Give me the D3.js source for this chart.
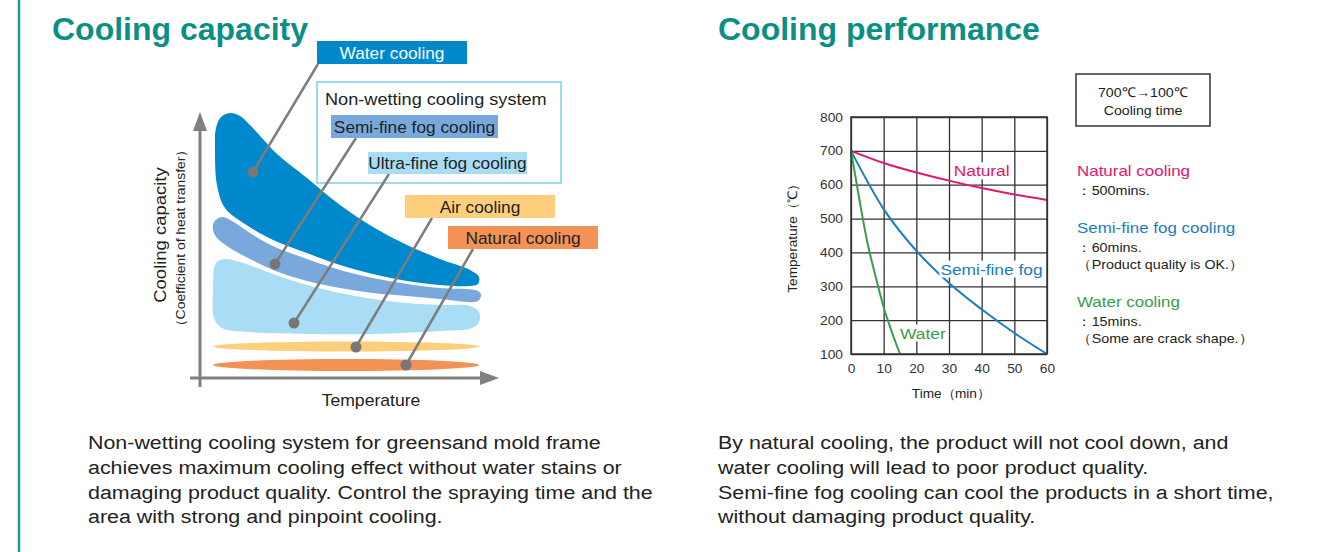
<!DOCTYPE html>
<html>
<head>
<meta charset="utf-8">
<script src="https://cdn.jsdelivr.net/npm/d3@7"></script>
<style>
  body { margin: 0; background: #fff; }
  svg text { font-family: 'Liberation Sans', Arial, sans-serif; }
  .title { font-weight: bold; font-size: 32px; fill: #0b8f85; }
  .grid line { stroke: #333; stroke-width: 1.3; }
  .grid .domain { display: none; }
  .grid text { font-size: 12.5px; fill: #333; }
</style>
</head>
<body>
<svg width="1321" height="552"></svg>
<script>
(function() {

	// ---- data: cooling capacity schematic (temperature units x capacity units) ----
	var bandNames = ['Water cooling', 'Semi-fine fog cooling', 'Ultra-fine fog cooling', 'Air cooling', 'Natural cooling']
	var waterBlob = [[3,250],[8,261],[17,265],[27,262],[36,254],[48,241],[64,224],[94,200],[127,173],[160,151],[194,133],[227,119],[257,108],[266,101],[265,94],[257,92],[227,93],[194,97],[160,104],[127,113],[94,125],[60,138],[32,154],[12,170],[4,193],[2,228]]
	var semiBlob = [[1,156],[9,161],[19,157],[37,145],[60,132],[94,119],[127,108],[160,100],[194,94],[227,90],[265,87],[268,83],[265,77],[227,79],[194,82],[160,85],[127,90],[94,97],[60,108],[37,119],[17,130],[4,140],[0,148]]
	var ultraBlob = [[3,115],[12,119],[27,116],[60,104],[94,93],[127,85],[160,79],[194,75],[227,73],[257,72],[266,66],[266,56],[259,50],[227,47],[160,44],[94,44],[37,46],[9,50],[1,60],[0,88]]
	var airBand = { from: 0, to: 266, level: 31.5, spread: 10 }
	var naturalBand = { from: 0, to: 266, level: 13, spread: 12 }
	var bandDots = [[40,206],[62,114],[81,55],[143,31],[193,13]]

	// ---- data: cooling performance ----
	var timeTicks = [0,10,20,30,40,50,60]
	var tempTicks = [100,200,300,400,500,600,700,800]
	var naturalTime = [0,10,20,30,40,50,60]
	var naturalTemp = [700,664,636,612,590,571,555]
	var semiTime = [0,10,20,30,40,50,60]
	var semiTemp = [700,528,405,310,232,162,100]
	var waterTime = [0,2.5,5,7.5,10,12.5,15]
	var waterTemp = [700,560,430,330,238,165,100]
	var curveNames = ['Natural', 'Semi-fine fog', 'Water']
	var curveLabelAt = [[40,641],[43,351],[22,162]]
	var legendTitles = ['Natural cooling', 'Semi-fine fog cooling', 'Water cooling']
	var legendNotes = [['：500mins.'], ['：60mins.', '（Product quality is OK.）'], ['：15mins.', '（Some are crack shape.）']]

	var leftNote = [
		'Non-wetting cooling system for greensand mold frame',
		'achieves maximum cooling effect without water stains or',
		'damaging product quality. Control the spraying time and the',
		'area with strong and pinpoint cooling.'
	]
	var rightNote = [
		'By natural cooling, the product will not cool down, and',
		'water cooling will lead to poor product quality.',
		'Semi-fine fog cooling can cool the products in a short time,',
		'without damaging product quality.'
	]

	var bandColors = ['#0088cc', '#79a9dc', '#a9ddf6', '#fdcf7d', '#f39254']
	var curveColors = ['#e5156d', '#1b7cc1', '#3a9d48']

	var svg = d3.select('svg')

	// text stretched horizontally (source font is wider than Arial)
	function wide(g, x, y, str, size, sx, anchor, fill) {
		return g.append('text')
			.attr('transform', 'translate(' + x + ',' + y + ') scale(' + sx + ',1)')
			.attr('text-anchor', anchor || 'start')
			.attr('dominant-baseline', 'central')
			.style('font-size', size + 'px')
			.attr('fill', fill || '#222')
			.text(str)
	}

	// side rule
	svg.append('line').attr('x1', 19).attr('x2', 19).attr('y1', 0).attr('y2', 552)
		.attr('stroke', '#1a9a92').attr('stroke-width', 2.5)

	svg.append('text').attr('class', 'title').attr('x', 52).attr('y', 40).text('Cooling capacity')
	svg.append('text').attr('class', 'title').attr('x', 718).attr('y', 40).text('Cooling performance')

	// ================= left: capacity schematic =================
	var xL = d3.scaleLinear().domain([0, 266]).range([213, 479])
	var yL = d3.scaleLinear().domain([0, 265]).range([378, 113])
	var gL = svg.append('g')

	var blob = d3.line()
		.x(function(d) { return xL(d[0]) })
		.y(function(d) { return yL(d[1]) })
		.curve(d3.curveCatmullRomClosed.alpha(0.5))

	;[waterBlob, semiBlob, ultraBlob].forEach(function(pts, i) {
		gL.append('path').attr('d', blob(pts)).attr('fill', bandColors[i])
	})
	;[airBand, naturalBand].forEach(function(b, i) {
		gL.append('ellipse')
			.attr('cx', xL((b.from + b.to) / 2))
			.attr('cy', yL(b.level))
			.attr('rx', (xL(b.to) - xL(b.from)) / 2)
			.attr('ry', (yL(0) - yL(b.spread)) / 2)
			.attr('fill', bandColors[i + 3])
	})

	// axes with arrows
	var axisColor = '#808080'
	gL.append('line').attr('x1', 200).attr('x2', 200).attr('y1', 128).attr('y2', 387)
		.attr('stroke', axisColor).attr('stroke-width', 3)
	gL.append('path').attr('d', 'M200,112 L193,131 L207,131 Z').attr('fill', axisColor)
	gL.append('line').attr('x1', 190).attr('x2', 484).attr('y1', 378).attr('y2', 378)
		.attr('stroke', axisColor).attr('stroke-width', 3)
	gL.append('path').attr('d', 'M499,378 L480,371 L480,385 Z').attr('fill', axisColor)

	wide(gL, 371, 401, 'Temperature', 16, 1.1, 'middle')
	var yLab = gL.append('g').attr('transform', 'translate(160,235) rotate(-90)')
	wide(yLab, 0, 0, 'Cooling capacity', 16.5, 1.12, 'middle')
	var yLab2 = gL.append('g').attr('transform', 'translate(181,238) rotate(-90)')
	wide(yLab2, 0, 0, '（Coefficient of heat transfer）', 13, 1.07, 'middle')

	// non-wetting frame
	gL.append('rect').attr('x', 317).attr('y', 82).attr('width', 244).attr('height', 101)
		.attr('fill', 'none').attr('stroke', '#9dd9f3').attr('stroke-width', 2)
	wide(gL, 325, 99, 'Non-wetting cooling system', 16.5, 1.1, 'start')

	// label boxes + leaders
	var boxLayout = [
		{ x: 317, y: 41, w: 150, h: 23, lx: 318, ly: 64, text: '#fff' },
		{ x: 331, y: 115, w: 167, h: 23, lx: 356, ly: 138, text: '#222' },
		{ x: 368, y: 152, w: 159, h: 22, lx: 389, ly: 174, text: '#222' },
		{ x: 405, y: 195, w: 150, h: 23, lx: 432, ly: 218, text: '#222' },
		{ x: 448, y: 226, w: 150, h: 23, lx: 473, ly: 249, text: '#222' }
	]
	bandNames.forEach(function(name, i) {
		var b = boxLayout[i]
		var d = bandDots[i]
		gL.append('line')
			.attr('x1', xL(d[0])).attr('y1', yL(d[1]))
			.attr('x2', b.lx).attr('y2', b.ly)
			.attr('stroke', '#7d7d7d').attr('stroke-width', 2.5)
		gL.append('circle').attr('cx', xL(d[0])).attr('cy', yL(d[1])).attr('r', 5.5).attr('fill', '#777')
		gL.append('rect').attr('x', b.x).attr('y', b.y).attr('width', b.w).attr('height', b.h)
			.attr('fill', bandColors[i])
		wide(gL, b.x + b.w / 2, b.y + b.h / 2 + 1, name, 16, 1.08, 'middle', b.text)
	})

	// ================= right: performance chart =================
	var x = d3.scaleLinear().domain([0, 60]).range([851, 1047])
	var y = d3.scaleLinear().domain([100, 800]).range([354, 117])
	var gR = svg.append('g')

	gR.append('g').attr('class', 'grid')
		.attr('transform', 'translate(0,' + y(100) + ')')
		.call(d3.axisBottom(x).tickValues(timeTicks).tickSizeInner(-(y(100) - y(800))).tickSizeOuter(0).tickPadding(10))
	gR.append('g').attr('class', 'grid')
		.attr('transform', 'translate(' + x(0) + ',0)')
		.call(d3.axisLeft(y).tickValues(tempTicks).tickSizeInner(-(x(60) - x(0))).tickSizeOuter(0).tickPadding(8))
	gR.selectAll('.grid text').attr('transform', 'scale(1.1,1)')
	gR.selectAll('.grid .tick').each(function() {
		var t = d3.select(this).select('text')
		var tx = +t.attr('x') || 0
		t.attr('x', tx / 1.1)
	})

	var tempLine = d3.line()
		.x(function(d) { return x(d[0]) })
		.y(function(d) { return y(d[1]) })
		.curve(d3.curveMonotoneX)

	var series = [
		d3.zip(naturalTime, naturalTemp),
		d3.zip(semiTime, semiTemp),
		d3.zip(waterTime, waterTemp)
	]
	series.forEach(function(s, i) {
		gR.append('path').attr('d', tempLine(s))
			.attr('fill', 'none').attr('stroke', curveColors[i]).attr('stroke-width', 2)
	})

	curveNames.forEach(function(name, i) {
		var p = curveLabelAt[i]
		var sx = 1.12
		var t = wide(gR, x(p[0]), y(p[1]), name, 15.5, sx, 'middle', curveColors[i])
		var bb = t.node().getBBox()
		var w = bb.width * sx
		gR.insert('rect', function() { return t.node() })
			.attr('x', x(p[0]) - w / 2 - 1).attr('y', y(p[1]) - bb.height / 2)
			.attr('width', w + 2).attr('height', bb.height)
			.attr('fill', '#fff')
	})

	// frame drawn on top so labels never cut it
	gR.append('rect').attr('x', x(0)).attr('y', y(800))
		.attr('width', x(60) - x(0)).attr('height', y(100) - y(800))
		.attr('fill', 'none').attr('stroke', '#333').attr('stroke-width', 1.5)

	wide(gR, 951, 394, 'Time（min）', 13, 1.05, 'middle')
	var tLab = gR.append('g').attr('transform', 'translate(793,235) rotate(-90)')
	wide(tLab, 0, 0, 'Temperature（℃）', 13, 1.05, 'middle')

	// cooling time note
	gR.append('rect').attr('x', 1076).attr('y', 74).attr('width', 134).attr('height', 52)
		.attr('fill', 'none').attr('stroke', '#333').attr('stroke-width', 1.5)
	wide(gR, 1143, 92, '700℃→100℃', 13.5, 1.05, 'middle')
	wide(gR, 1143, 110, 'Cooling time', 13.5, 1.05, 'middle')

	var legendY = [171, 228, 302]
	legendTitles.forEach(function(title, i) {
		wide(gR, 1077, legendY[i], title, 15, 1.13, 'start', curveColors[i])
		legendNotes[i].forEach(function(note, j) {
			wide(gR, 1077, legendY[i] + 20 + j * 17, note, 13, 1.1, 'start', '#222')
		})
	})

	// ================= notes =================
	leftNote.forEach(function(line, i) {
		wide(svg, 88, 443 + i * 24.7, line, 18, 1.19, 'start', '#222')
	})
	rightNote.forEach(function(line, i) {
		wide(svg, 718, 443 + i * 24.7, line, 18, 1.19, 'start', '#222')
	})

})()
</script>
</body>
</html>
